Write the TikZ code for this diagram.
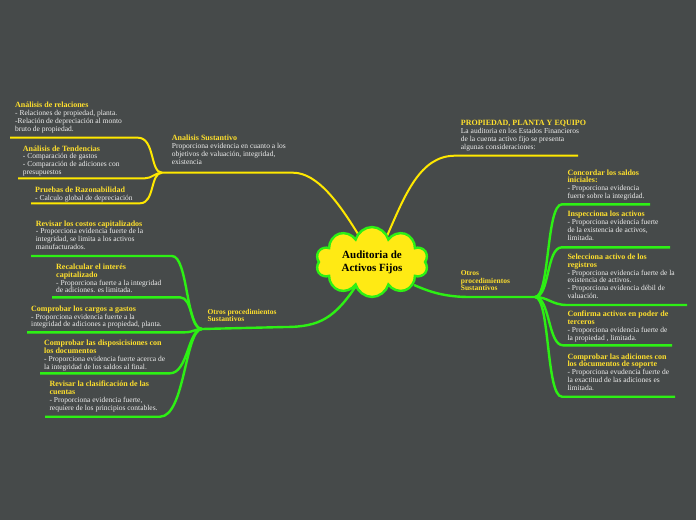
\documentclass[tikz,border=0pt]{standalone}
\usepackage{fontspec}
\setmainfont{Liberation Serif}
\usetikzlibrary{shapes.symbols}
\definecolor{bg}{RGB}{70,74,74}
\definecolor{ylw}{RGB}{255,232,0}
\definecolor{ttlc}{RGB}{255,224,45}
\definecolor{bodytxt}{RGB}{238,238,238}
\definecolor{grn}{RGB}{45,240,20}
\definecolor{cloudfill}{RGB}{255,234,20}
\tikzset{
  txt/.style={anchor=base west, inner sep=0pt, align=left, text=bodytxt, font=\fontsize{7.5}{7.7}\selectfont},
  lbl/.style={anchor=base west, inner sep=0pt, align=left, text=ttlc, font=\bfseries\fontsize{7.5}{7.7}\selectfont},
  ylink/.style={draw=ylw, line width=2pt},
  glink/.style={draw=grn, line width=2.4pt},
}
\newcommand{\ttl}[1]{{\color{ttlc}\bfseries\fontsize{8}{7.7}\selectfont #1}}
\begin{document}
\begin{tikzpicture}[x=1pt,y=-1pt]
\fill[bg] (0,0) rectangle (696,520);
\useasboundingbox (0,0) rectangle (696,520);

% ---------- coordinates ----------
\coordinate (cTL) at (358,234);
\coordinate (cTR) at (387,236);
\coordinate (cBL) at (358,283);
\coordinate (cBR) at (414,285);
\coordinate (yj) at (162,172.7);
\coordinate (ym) at (293,172.7);
\coordinate (y1s) at (10,137.7);  \coordinate (y1e) at (138,137.7);
\coordinate (y2s) at (18,178.3);  \coordinate (y2e) at (145,178.3);
\coordinate (y3s) at (31,203.3);  \coordinate (y3e) at (140,203.3);
\coordinate (pe) at (455,155.7);  \coordinate (pf) at (578,155.7);
\coordinate (gj) at (202,329);
\coordinate (gm) at (285,327);
\coordinate (g1s) at (31,256);   \coordinate (g1e) at (172,256);
\coordinate (g2s) at (52,297.3); \coordinate (g2e) at (180,297.3);
\coordinate (g3s) at (27,332.3); \coordinate (g3e) at (185,332.3);
\coordinate (g4s) at (40,373.3); \coordinate (g4e) at (170,373.3);
\coordinate (g5s) at (45,416.7); \coordinate (g5e) at (160,416.7);
\coordinate (rj) at (535,297);
\coordinate (rm) at (470,297);
\coordinate (r1s) at (562,204.3); \coordinate (r1e) at (650,204.3);
\coordinate (r2s) at (562,247.3); \coordinate (r2e) at (670,247.3);
\coordinate (r3s) at (567,305);   \coordinate (r3e) at (687,305);
\coordinate (r4s) at (563,345.3); \coordinate (r4e) at (672,345.3);
\coordinate (r5s) at (562,396.7); \coordinate (r5e) at (675,396.7);

% ---------- yellow branches ----------
\draw[ylink] (cTL) .. controls (340,205) and (318,172.7) .. (ym) -- (yj);
\draw[ylink] (yj) .. controls (150,172.7) and (155,137.7) .. (y1e) -- (y1s);
\draw[ylink] (yj) .. controls (155,172.7) and (152,178.3) .. (y2e) -- (y2s);
\draw[ylink] (yj) .. controls (150,172.7) and (155,203.3) .. (y3e) -- (y3s);
\draw[ylink] (cTR) .. controls (405,195) and (420,155.7) .. (pe) -- (pf);

% ---------- green branches ----------
\draw[glink] (cBL) .. controls (335,318) and (320,327) .. (gm) -- (gj);
\draw[glink] (gj) .. controls (186,329) and (188,256) .. (g1e) -- (g1s);
\draw[glink] (gj) .. controls (190,329) and (193,297.3) .. (g2e) -- (g2s);
\draw[glink] (gj) .. controls (195,329) and (193,332.3) .. (g3e) -- (g3s);
\draw[glink] (gj) .. controls (188,329) and (188,373.3) .. (g4e) -- (g4s);
\draw[glink] (gj) .. controls (185,329) and (185,416.7) .. (g5e) -- (g5s);
\draw[glink] (cBR) .. controls (430,292) and (445,297) .. (rm) -- (rj);
\draw[glink] (rj) .. controls (550,297) and (546,204.3) .. (r1s) -- (r1e);
\draw[glink] (rj) .. controls (550,297) and (546,247.3) .. (r2s) -- (r2e);
\draw[glink] (rj) .. controls (548,297) and (552,305) .. (r3s) -- (r3e);
\draw[glink] (rj) .. controls (550,297) and (548,345.3) .. (r4s) -- (r4e);
\draw[glink] (rj) .. controls (550,297) and (546,396.7) .. (r5s) -- (r5e);

% ---------- texts (anchor = baseline of last line) ----------
\node[txt] (trel) at (15,131) {\ttl{Análisis de relaciones}\\- Relaciones de propiedad, planta.\\-Relación de depreciación al monto\\bruto de propiedad.};
\node[txt] (tten) at (22.7,174.3) {\ttl{Análisis de Tendencias}\\- Comparación de gastos\\- Comparación de adiciones con\\presupuestos};
\node[txt] (tpru) at (35,200) {\ttl{Pruebas de Razonabilidad}\\- Calculo global de depreciación};
\node[txt] (tsus) at (171.7,164) {\ttl{Analisis Sustantivo}\\Proporciona evidencia en cuanto a los\\objetivos de valuación, integridad,\\existencia};
\node[txt] (tppe) at (460.7,149) {\ttl{PROPIEDAD, PLANTA Y EQUIPO}\\La auditoria en los Estados Financieros\\de la cuenta activo fijo se presenta\\algunas consideraciones:};

\node[txt] (tcos) at (35.7,249.3) {\ttl{Revisar los costos capitalizados}\\- Proporciona evidencia fuerte de la\\integridad, se limita a los activos\\manufacturados.};
\node[txt] (trec) at (56,292.7) {\ttl{Recalcular el interés}\\\ttl{capitalizado}\\- Proporciona fuerte a la integridad\\de adiciones. es limitada.};
\node[txt] (tcar) at (31,326.7) {\ttl{Comprobar los cargos a gastos}\\- Proporciona evidencia fuerte a la\\integridad de adiciones a propiedad, planta.};
\node[txt] (tdis) at (44,369) {\ttl{Comprobar las disposicisiones con}\\\ttl{los documentos}\\- Proporciona evidencia fuerte acerca de\\la integridad de los saldos al final.};
\node[txt] (tcla) at (49.3,410) {\ttl{Revisar la clasificación de las}\\\ttl{cuentas}\\- Proporciona evidencia fuerte,\\requiere de los principios contables.};
\node[lbl] (totl) at (207.3,321.7) {Otros procedimientos\\Sustantivos};

\node[lbl] (totr) at (460.7,290.7) {Otros\\procedimientos\\Sustantivos};
\node[txt] (tcon) at (567.3,198.3) {\ttl{Concordar los saldos}\\\ttl{iniciales:}\\- Proporciona evidencia\\fuerte sobre la integridad.};
\node[txt] (tins) at (567.3,240) {\ttl{Inspecciona los activos}\\- Proporciona evidencia fuerte\\de la existencia de activos,\\limitada.};
\node[txt] (tsel) at (567.3,298.3) {\ttl{Selecciona activo de los}\\\ttl{registros}\\- Proporciona evidencia fuerte de la\\existencia de activos.\\- Proporciona evidencia débil de\\valuación.};
\node[txt] (tcnf) at (567.3,340) {\ttl{Confirma activos en poder de}\\\ttl{terceros}\\- Proporciona evidencia fuerte de\\la propiedad , limitada.};
\node[txt] (tadi) at (567.3,390) {\ttl{Comprobar las adiciones con}\\\ttl{los documentos de soporte}\\- Proporciona evudencia fuerte de\\la exactitud de las adiciones es\\limitada.};

% ---------- central cloud ----------
\node[cloud, cloud puffs=10, aspect=1.65, minimum width=112pt, minimum height=68pt,
      fill=cloudfill, draw=grn, line width=2.4pt, inner sep=0pt, align=center,
      font=\bfseries\fontsize{11}{13}\selectfont, text=black] (center) at (372,262)
      {Auditoria de\\Activos Fijos};
\end{tikzpicture}
\end{document}
